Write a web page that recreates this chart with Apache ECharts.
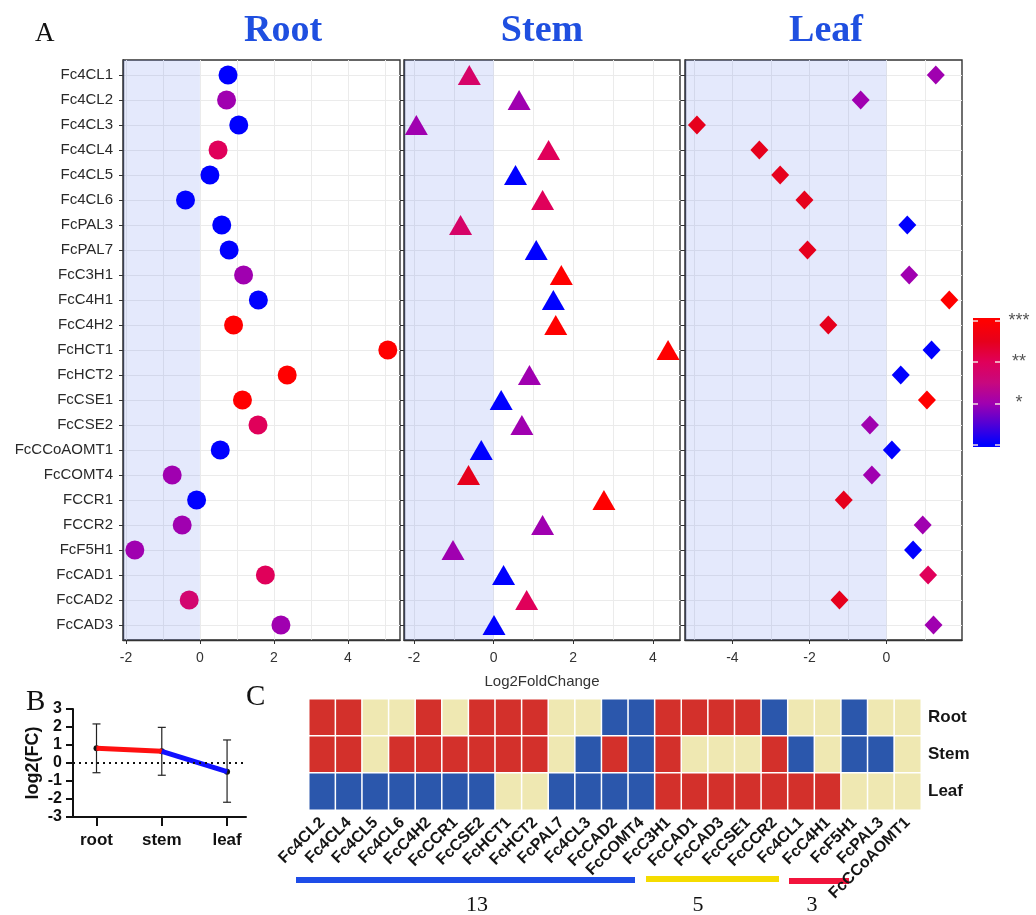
<!DOCTYPE html>
<html><head><meta charset="utf-8">
<script src="https://cdn.jsdelivr.net/npm/echarts@6/dist/echarts.min.js"></script>
<style>html,body{margin:0;padding:0;background:#fff}#c{width:1036px;height:915px}</style>
</head><body><div id="c"></div>
<script>
// ---------------- data ----------------
const genes = ['Fc4CL1','Fc4CL2','Fc4CL3','Fc4CL4','Fc4CL5','Fc4CL6','FcPAL3','FcPAL7','FcC3H1','FcC4H1','FcC4H2','FcHCT1','FcHCT2','FcCSE1','FcCSE2','FcCCoAOMT1','FcCOMT4','FCCR1','FCCR2','FcF5H1','FcCAD1','FcCAD2','FcCAD3'];
const rootLFC = [0.76,0.72,1.05,0.49,0.27,-0.39,0.59,0.79,1.18,1.58,0.91,5.08,2.36,1.15,1.57,0.55,-0.75,-0.09,-0.48,-1.76,1.77,-0.29,2.19];
const rootSig = [0,1,0,2,0,0,0,0,1,0,3,3,3,3,2,0,1,0,1,1,2,1.7,1];
const stemLFC = [-0.61,0.64,-1.94,1.38,0.55,1.23,-0.83,1.07,1.70,1.50,1.56,4.38,0.90,0.19,0.71,-0.31,-0.63,2.77,1.23,-1.02,0.25,0.83,0.01];
const stemSig = [1.8,1,1,2,0,2,1.8,0,3,0,3,3,1,0,1,0,2.5,3,1,1,0,2,0];
const leafLFC = [1.28,-0.67,-4.92,-3.30,-2.76,-2.13,0.54,-2.05,0.59,1.63,-1.51,1.17,0.37,1.05,-0.43,0.14,-0.38,-1.11,0.94,0.69,1.08,-1.22,1.22];
const leafSig = [1,1,2.5,2.5,2.5,2.5,0,2.5,1,3,2.5,0,0,3,1,0,1,2.5,1,0,2,2.5,1];
const panelTitles = ['Root','Stem','Leaf'];
const sigTicks = [0,1,2,3];
const sigLabels = ['','*','**','***'];

const tissues = ['root','stem','leaf'];
const meanLFC = [0.82,0.65,-0.48];
const errHigh = [2.17,1.98,1.28];
const errLow = [-0.54,-0.68,-2.18];

const heatCols = ['Fc4CL2','Fc4CL4','Fc4CL5','Fc4CL6','FcC4H2','FcCCR1','FcCSE2','FcHCT1','FcHCT2','FcPAL7','Fc4CL3','FcCAD2','FcCOMT4','FcC3H1','FcCAD1','FcCAD3','FcCSE1','FcCCR2','Fc4CL1','FcC4H1','FcF5H1','FcPAL3','FcCCoAOMT1'];
const heatRows = ['Root','Stem','Leaf'];
const heatRoot = [1,1,0,0,1,0,1,1,1,0,0,-1,-1,1,1,1,1,-1,0,0,-1,0,0];
const heatStem = [1,1,0,1,1,1,1,1,1,0,-1,1,-1,1,0,0,0,1,-1,0,-1,-1,0];
const heatLeaf = [-1,-1,-1,-1,-1,-1,-1,0,0,-1,-1,-1,-1,1,1,1,1,1,1,1,0,0,0];
const groupCounts = ['13','5','3'];

// ---------------- styling ----------------
const SANS = 'Liberation Sans, Arial, sans-serif';
const SERIF = 'Liberation Serif, Times New Roman, serif';
const palette = ['#0000ff','#5200d6','#a000b0','#c8087e','#e0005a','#e6001c','#ff0000'];
const sigMin = 0, sigMax = 3;

const panelLayout = [
  {left:123, width:277, min:-2.08, max:5.41, symbol:'circle', size:19},
  {left:404, width:276, min:-2.25, max:4.68, symbol:'triangle', size:[23,20]},
  {left:685, width:277, min:-5.23, max:1.96, symbol:'diamond', size:[18,19]}
];
const panelData = [[rootLFC,rootSig],[stemLFC,stemSig],[leafLFC,leafSig]];

const grids = [], xAxes = [], yAxes = [], series = [];
const rowIdx = genes.map((g,k)=>k);

panelLayout.forEach((p,i)=>{
  grids.push({left:p.left, top:60, width:p.width, height:580, show:true, borderColor:'#333', borderWidth:1.4, backgroundColor:'#fff'});
  const ints = [];
  for (let v=Math.ceil(p.min); v<=Math.floor(p.max); v++) ints.push(v);
  const evens = ints.filter(v=>v%2===0);
  xAxes.push({gridIndex:i, type:'value', min:p.min, max:p.max,
    axisLine:{show:true, onZero:false, lineStyle:{color:'#333', width:1.4}},
    axisTick:{show:true, customValues:evens, length:4, lineStyle:{color:'#333'}},
    axisLabel:{customValues:evens, fontSize:14, color:'#333', margin:11, fontFamily:SANS},
    splitLine:{show:false},
    name: i===1 ? 'Log2FoldChange' : '', nameLocation:'middle', nameGap:34,
    nameTextStyle:{fontSize:15, color:'#333', fontFamily:SANS}
  });
  xAxes.push({gridIndex:i, type:'value', min:p.min, max:p.max,
    axisLine:{show:false}, axisTick:{show:false, customValues:ints}, axisLabel:{show:false, customValues:ints},
    splitLine:{show:true, lineStyle:{color:'#ebebeb', width:1}}
  });
  yAxes.push({gridIndex:i, type:'value', inverse:true, min:-0.6, max:genes.length-0.4,
    axisLine:{show:true, onZero:false, lineStyle:{color:'#333', width:1.4}},
    axisTick:{show:true, customValues:rowIdx, length:4, lineStyle:{color:'#333'}},
    axisLabel:{show:i===0, customValues:rowIdx, formatter:v=>genes[v]||'', fontSize:15, color:'#2a2a2a', margin:10, fontFamily:SANS},
    splitLine:{show:true, lineStyle:{color:'#ebebeb', width:1}}
  });
  const [lfc, sig] = panelData[i];
  series.push({type:'scatter', xAxisIndex:2*i, yAxisIndex:i, z:3,
    symbol:p.symbol, symbolSize:p.size, itemStyle:{opacity:1},
    data: lfc.map((v,k)=>[v,k,sig[k]]),
    markArea:{silent:true, itemStyle:{color:'rgba(95,125,235,0.17)'}, data:[[{xAxis:p.min},{xAxis:0}]]}
  });
});

// ---- panel B ----
grids.push({left:73, top:709, width:173, height:108, show:false});
xAxes.push({gridIndex:3, type:'value', min:-0.36, max:2.29,
  axisLine:{show:true, onZero:false, lineStyle:{color:'#111', width:2}},
  axisTick:{show:true, customValues:[0,1,2], length:9, lineStyle:{color:'#111', width:2}},
  axisLabel:{customValues:[0,1,2], formatter:v=>tissues[v]||'', fontSize:17, fontWeight:'bold', color:'#111', margin:15, fontFamily:SANS},
  splitLine:{show:false}});
yAxes.push({gridIndex:3, type:'value', min:-3, max:3, interval:1,
  axisLine:{show:true, onZero:false, lineStyle:{color:'#111', width:2}},
  axisTick:{show:true, length:7, lineStyle:{color:'#111', width:2}},
  axisLabel:{fontSize:16, fontWeight:'bold', color:'#111', margin:11, fontFamily:SANS},
  splitLine:{show:false},
  name:'log2(FC)', nameLocation:'middle', nameGap:31,
  nameTextStyle:{fontSize:18, fontWeight:'bold', color:'#111', fontFamily:SANS}});
const bIdx = tissues.map((t,k)=>k);
series.push({type:'scatter', xAxisIndex:6, yAxisIndex:3, z:2, symbolSize:6, itemStyle:{color:'#111', opacity:1},
  data: bIdx.map(k=>[k, meanLFC[k]])});
series.push({type:'custom', xAxisIndex:6, yAxisIndex:3, z:3,
  data: bIdx.map(k=>[k, errLow[k], errHigh[k]]),
  renderItem:(params, api)=>{
    const x = api.value(0);
    const hi = api.coord([x, api.value(2)]), lo = api.coord([x, api.value(1)]);
    const c = 4, st = {stroke:'#222', lineWidth:1.2};
    return {type:'group', children:[
      {type:'line', shape:{x1:hi[0], y1:hi[1], x2:lo[0], y2:lo[1]}, style:st},
      {type:'line', shape:{x1:hi[0]-c, y1:hi[1], x2:hi[0]+c, y2:hi[1]}, style:st},
      {type:'line', shape:{x1:lo[0]-c, y1:lo[1], x2:lo[0]+c, y2:lo[1]}, style:st}
    ]};
  }});
series.push({type:'line', xAxisIndex:6, yAxisIndex:3, z:4, symbol:'none',
  lineStyle:{color:'#ff1010', width:5},
  data:[[0, meanLFC[0]],[1, meanLFC[1]]],
  markLine:{silent:true, symbol:'none', label:{show:false}, lineStyle:{color:'#111', type:[2,4], width:2},
    data:[{yAxis:0}]}});
series.push({type:'line', xAxisIndex:6, yAxisIndex:3, z:4, symbol:'none',
  lineStyle:{color:'#1010ff', width:5},
  data:[[1, meanLFC[1]],[2, meanLFC[2]]]});

// ---- colour bar legend ----
const cbMin = -0.06, cbMax = 3.07;
grids.push({left:973, top:318, width:27, height:129, show:false});
xAxes.push({gridIndex:4, type:'value', min:0, max:1, show:false});
const cbTickAxis = (pos, labels)=>({gridIndex:4, type:'value', min:cbMin, max:cbMax, position:pos, z:5,
  axisLine:{show:false}, splitLine:{show:false},
  axisTick:{show:true, inside:true, length:5, customValues:sigTicks, lineStyle:{color:'#f4dede', width:1.5}},
  axisLabel:{show:labels, customValues:sigTicks, formatter:v=>sigLabels[v]||'', fontSize:18, color:'#555', margin:19, align:'center', fontFamily:SANS}});
yAxes.push(cbTickAxis('left', false));
yAxes.push(cbTickAxis('right', true));
const stops = palette.map((c,j)=>({offset:(j*(sigMax-sigMin)/(palette.length-1)-cbMin)/(cbMax-cbMin), color:c}));
const cbStops = [{offset:0, color:palette[0]}].concat(stops, [{offset:1, color:palette[palette.length-1]}]);
series.push({type:'custom', xAxisIndex:7, yAxisIndex:4, z:2, silent:true,
  data:[[0, cbMin, cbMax]], encode:{x:0, y:[1,2]},
  renderItem:(params, api)=>{
    const cs = params.coordSys;
    const t = api.coord([0, api.value(2)]), b = api.coord([0, api.value(1)]);
    return {type:'rect', shape:{x:cs.x, y:t[1], width:cs.width, height:b[1]-t[1]},
      style:{fill:new echarts.graphic.LinearGradient(0,1,0,0,cbStops)}};
  }});

// ---- panel C heatmap ----
grids.push({left:309, top:699, width:612, height:111, show:false});
xAxes.push({gridIndex:5, type:'category', data:heatCols,
  axisLine:{show:false}, axisTick:{show:false}, splitLine:{show:false},
  axisLabel:{interval:0, rotate:45, fontSize:16, fontWeight:'bold', color:'#151515', margin:10, fontFamily:SANS}});
yAxes.push({gridIndex:5, type:'category', data:heatRows, inverse:true, position:'right',
  axisLine:{show:false}, axisTick:{show:false}, splitLine:{show:false},
  axisLabel:{fontSize:17, fontWeight:'bold', color:'#151515', margin:7, fontFamily:SANS}});
const heatData = [];
[heatRoot, heatStem, heatLeaf].forEach((row,r)=>row.forEach((v,c)=>heatData.push([c,r,v])));
series.push({type:'heatmap', xAxisIndex:8, yAxisIndex:6, data:heatData,
  itemStyle:{borderColor:'#ffffff', borderWidth:1.5}});
const heatSeriesIndex = series.length-1;

// ---- annotations ----
const graphic = [
  {type:'text', left:35, top:20, style:{text:'A', font:'27px '+SERIF, fill:'#111'}},
  {type:'text', left:26, top:688, style:{text:'B', font:'29px '+SERIF, fill:'#111'}},
  {type:'text', left:246, top:683, style:{text:'C', font:'29px '+SERIF, fill:'#111'}}
];
[283,542,826].forEach((cx,i)=>graphic.push({type:'text', x:cx, y:31,
  style:{text:panelTitles[i], font:'bold 38px '+SERIF, fill:'#1f4fe0', textAlign:'center', textVerticalAlign:'middle'}}));
const groupBars = [
  {x1:296, x2:635, y:880, color:'#1e4de8', tx:477},
  {x1:646, x2:779, y:879, color:'#f5dc00', tx:698},
  {x1:789, x2:849, y:881, color:'#f2143c', tx:812}
];
groupBars.forEach((g,i)=>{
  graphic.push({type:'line', shape:{x1:g.x1, y1:g.y, x2:g.x2, y2:g.y}, style:{stroke:g.color, lineWidth:6}});
  graphic.push({type:'text', x:g.tx, y:905, style:{text:groupCounts[i], font:'22px '+SERIF, fill:'#111', textAlign:'center', textVerticalAlign:'middle'}});
});

const chart = echarts.init(document.getElementById('c'), null, {renderer:'canvas', devicePixelRatio:1});
chart.setOption({
  backgroundColor:'#fff',
  animation:false,
  grid:grids, xAxis:xAxes, yAxis:yAxes, series:series, graphic:graphic,
  visualMap:[
    {type:'continuous', show:false, min:sigMin, max:sigMax, dimension:2, seriesIndex:[0,1,2], inRange:{color:palette}},
    {type:'piecewise', show:false, dimension:2, seriesIndex:heatSeriesIndex,
      pieces:[{value:-1, color:'#2b57ac'},{value:0, color:'#efe8b2'},{value:1, color:'#d3302b'}]}
  ]
});
</script></body></html>
